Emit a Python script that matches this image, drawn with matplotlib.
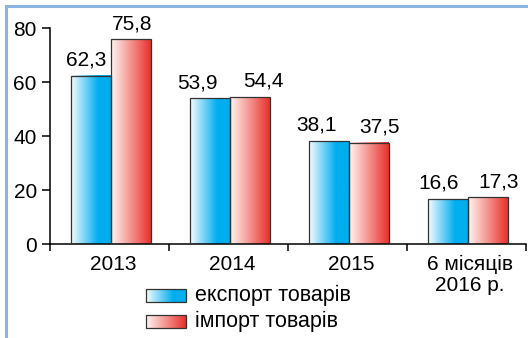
import numpy as np
import matplotlib
matplotlib.use("Agg")
import matplotlib.pyplot as plt
from matplotlib.patches import Rectangle
from matplotlib.lines import Line2D
from matplotlib.colors import to_rgb

plt.rcParams['font.family'] = ['Liberation Sans', 'DejaVu Sans']

categories = ['2013', '2014', '2015', '6 місяців\n2016 р.']
export_vals = [62.3, 53.9, 38.1, 16.6]
import_vals = [75.8, 54.4, 37.5, 17.3]
value_labels_exp = ['62,3', '53,9', '38,1', '16,6']
value_labels_imp = ['75,8', '54,4', '37,5', '17,3']
series_names = ['експорт товарів', 'імпорт товарів']

# horizontal nudges of the value labels (points), as in the original layout
shift_exp = [-3, -9, -9, -6.5]
shift_imp = [1, 10, 8, 8]


def gradient(c0, c1, stop):
    # horizontal gradient c0 -> c1, flat after `stop`
    t = np.clip(np.linspace(0, 1, 256) / stop, 0, 1)
    a, b = np.array(to_rgb(c0)), np.array(to_rgb(c1))
    return (a[None, :] + (b - a)[None, :] * t[:, None])[None, :, :]


blue_grad = gradient('#F8FCFE', '#00AEEF', 0.68)
red_grad = gradient('#FFF6F2', '#E8302A', 1.0)

fig = plt.figure(figsize=(5.28, 3.38), dpi=100)
ax = fig.add_axes([50 / 528, 94 / 338, 476 / 528, 216 / 338])

x = np.arange(len(categories))
w = 0.336
fs = 15


def grad_bars(xpos, vals, grad, labels, shifts):
    bars = ax.bar(xpos, vals, w, facecolor='none', edgecolor='#333333',
                  linewidth=0.9, zorder=3)
    for b, lab, dx in zip(bars, labels, shifts):
        x0, h = b.get_x(), b.get_height()
        ax.imshow(grad, extent=(x0, x0 + w, 0, h), aspect='auto', zorder=2,
                  interpolation='bilinear')
        ax.annotate(lab, (x0 + w / 2, h), xytext=(dx, 4.5),
                    textcoords='offset points', ha='center', va='bottom',
                    fontsize=fs, annotation_clip=False)


grad_bars(x - w / 2 + 0.01, export_vals, blue_grad, value_labels_exp, shift_exp)
grad_bars(x + w / 2 + 0.01, import_vals, red_grad, value_labels_imp, shift_imp)

ax.set_xlim(-0.5, 3.5)
ax.set_ylim(0, 80)
ax.set_yticks([0, 20, 40, 60, 80])
ax.set_xticks(x + 0.03)
ax.set_xticklabels(categories, fontsize=fs, linespacing=1.1)
ax.set_xticks(np.arange(-0.5, 4, 1), minor=True)
ax.tick_params(axis='x', which='major', length=0, pad=8)
ax.tick_params(axis='x', which='minor', length=5, width=1.1, direction='out')
ax.tick_params(axis='y', length=5.5, width=1.1, labelsize=fs, pad=4)
for s in ['top', 'right']:
    ax.spines[s].set_visible(False)
for s in ['left', 'bottom']:
    ax.spines[s].set_linewidth(1.1)

# legend drawn by hand
lax = fig.add_axes([0, 0, 1, 1], facecolor='none')
lax.axis('off')
for i, (name, grad) in enumerate(zip(series_names, [blue_grad, red_grad])):
    y0 = 289 + i * 26
    lax.imshow(grad, extent=(146, 186, y0 + 13, y0), aspect='auto',
               interpolation='bilinear')
    lax.add_patch(Rectangle((146, y0), 40, 13, facecolor='none',
                            edgecolor='#333333', linewidth=0.9))
    lax.text(195, y0 + 6.5, name, va='center', ha='left', fontsize=15.5)
lax.set_xlim(0, 528)
lax.set_ylim(338, 0)

# light blue frame
fig.add_artist(Line2D([6 / 528, 6 / 528], [0, 1 - 6 / 338], transform=fig.transFigure,
                      color='#8DB3E2', linewidth=2.2))
fig.add_artist(Line2D([6 / 528, 1], [1 - 6 / 338, 1 - 6 / 338], transform=fig.transFigure,
                      color='#8DB3E2', linewidth=2.2))

fig.savefig('out.png', dpi=100)
